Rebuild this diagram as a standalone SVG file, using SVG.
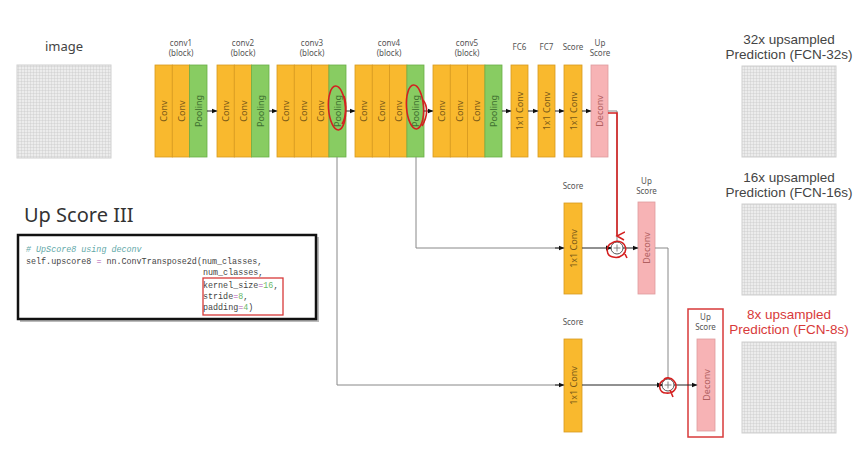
<svg xmlns="http://www.w3.org/2000/svg" width="864" height="460" viewBox="0 0 864 460">
<defs>
<pattern id="grid" width="3" height="3" patternUnits="userSpaceOnUse">
<rect width="3" height="3" fill="#ececec"/>
<path d="M0 0H3M0 0V3" stroke="#c8c8c8" stroke-width="0.8" fill="none"/>
</pattern>
<marker id="ah" markerWidth="6" markerHeight="6" refX="5" refY="3" orient="auto" markerUnits="userSpaceOnUse">
<path d="M0 0.5L6 3L0 5.5Z" fill="#111"/>
</marker>
<marker id="rah" markerWidth="10" markerHeight="10" refX="5" refY="8" orient="auto" markerUnits="userSpaceOnUse">
<path d="M1 0L5 8L9 1" fill="none" stroke="#d42020" stroke-width="1.5"/>
</marker>
</defs>
<style>
text{font-family:"Noto Sans","Noto Sans CJK KR","DejaVu Sans",sans-serif}
.lbl{font-size:8px;fill:#555;text-anchor:middle}
.big{font-size:13px;fill:#444;text-anchor:middle}
.pred{font-family:"Liberation Sans",Arial,sans-serif;font-size:13.5px;fill:#444;text-anchor:middle}
.cv{fill:#F9B92E;stroke:#D89A1E;stroke-width:0.8}
.pl{fill:#88CC62;stroke:#6AAE48;stroke-width:0.8}
.dc{fill:#F7B3B5;stroke:#DF9C9E;stroke-width:0.8}
.tc{font-size:9px;fill:#7A5A18;text-anchor:middle;dominant-baseline:central}
.tp{font-size:9px;fill:#3E7030;text-anchor:middle;dominant-baseline:central}
.td{font-size:9px;fill:#B06060;text-anchor:middle;dominant-baseline:central}
.ln{stroke:#888;stroke-width:1;fill:none}
.ar{stroke:#222;stroke-width:1;fill:none;marker-end:url(#ah)}
.red{stroke:#D42020;stroke-width:1.6;fill:none}
.code{font-family:"Liberation Mono","DejaVu Sans Mono",monospace;font-size:8.4px;fill:#444}
.grid{fill:url(#grid);stroke:#d0d0d0;stroke-width:1}
</style>

<g id="image">
<text x="64" y="51" class="big">image</text>
<rect x="17" y="65" width="94" height="93" class="grid"/>
</g>

<g id="conv1">
<text x="181" y="46" class="lbl">conv1</text><text x="181" y="56" class="lbl">(block)</text>
<rect x="155" y="65" width="17.3" height="92" class="cv"/><rect x="172.3" y="65" width="17.3" height="92" class="cv"/><rect x="189.6" y="65" width="17.4" height="92" class="pl"/>
<text class="tc" transform="translate(163.7,111) rotate(-90)">Conv</text>
<text class="tc" transform="translate(181,111) rotate(-90)">Conv</text>
<text class="tp" transform="translate(198.3,111) rotate(-90)">Pooling</text>
</g>

<g id="conv2">
<text x="243" y="46" class="lbl">conv2</text><text x="243" y="56" class="lbl">(block)</text>
<rect x="217" y="65" width="17.3" height="92" class="cv"/><rect x="234.3" y="65" width="17.3" height="92" class="cv"/><rect x="251.6" y="65" width="17.4" height="92" class="pl"/>
<text class="tc" transform="translate(225.7,111) rotate(-90)">Conv</text>
<text class="tc" transform="translate(243,111) rotate(-90)">Conv</text>
<text class="tp" transform="translate(260.3,111) rotate(-90)">Pooling</text>
</g>

<g id="conv3">
<text x="312" y="46" class="lbl">conv3</text><text x="312" y="56" class="lbl">(block)</text>
<rect x="277" y="65" width="17.3" height="92" class="cv"/><rect x="294.3" y="65" width="17.3" height="92" class="cv"/><rect x="311.6" y="65" width="17.3" height="92" class="cv"/><rect x="328.9" y="65" width="17.1" height="92" class="pl"/>
<text class="tc" transform="translate(285.7,111) rotate(-90)">Conv</text>
<text class="tc" transform="translate(303,111) rotate(-90)">Conv</text>
<text class="tc" transform="translate(320.3,111) rotate(-90)">Conv</text>
<text class="tp" transform="translate(337.5,111) rotate(-90)">Pooling</text>
</g>

<g id="conv4">
<text x="389" y="46" class="lbl">conv4</text><text x="389" y="56" class="lbl">(block)</text>
<rect x="355" y="65" width="17.3" height="92" class="cv"/><rect x="372.3" y="65" width="17.3" height="92" class="cv"/><rect x="389.6" y="65" width="17.3" height="92" class="cv"/><rect x="406.9" y="65" width="17.1" height="92" class="pl"/>
<text class="tc" transform="translate(363.7,111) rotate(-90)">Conv</text>
<text class="tc" transform="translate(381,111) rotate(-90)">Conv</text>
<text class="tc" transform="translate(398.3,111) rotate(-90)">Conv</text>
<text class="tp" transform="translate(415.5,111) rotate(-90)">Pooling</text>
</g>

<g id="conv5">
<text x="467" y="46" class="lbl">conv5</text><text x="467" y="56" class="lbl">(block)</text>
<rect x="433" y="65" width="17.3" height="92" class="cv"/><rect x="450.3" y="65" width="17.3" height="92" class="cv"/><rect x="467.6" y="65" width="17.3" height="92" class="cv"/><rect x="484.9" y="65" width="17.1" height="92" class="pl"/>
<text class="tc" transform="translate(441.7,111) rotate(-90)">Conv</text>
<text class="tc" transform="translate(459,111) rotate(-90)">Conv</text>
<text class="tc" transform="translate(476.3,111) rotate(-90)">Conv</text>
<text class="tp" transform="translate(493.5,111) rotate(-90)">Pooling</text>
</g>

<g id="fc6">
<text x="519.5" y="50" class="lbl">FC6</text>
<rect x="511" y="65" width="17" height="92" class="cv"/>
<text class="tc" transform="translate(519.5,111) rotate(-90)">1x1 Conv</text>
</g>
<g id="fc7">
<text x="546.5" y="50" class="lbl">FC7</text>
<rect x="538" y="65" width="17" height="92" class="cv"/>
<text class="tc" transform="translate(546.5,111) rotate(-90)">1x1 Conv</text>
</g>
<g id="score32">
<text x="573" y="50" class="lbl">Score</text>
<rect x="564" y="65" width="18" height="92" class="cv"/>
<text class="tc" transform="translate(573,111) rotate(-90)">1x1 Conv</text>
</g>
<g id="upscore32">
<text x="600" y="46" class="lbl">Up</text><text x="600" y="56" class="lbl">Score</text>
<rect x="591" y="65" width="17" height="92" class="dc"/>
<text class="td" transform="translate(599.5,111) rotate(-90)">Deconv</text>
</g>

<g id="score16">
<text x="573" y="189" class="lbl">Score</text>
<rect x="564" y="203" width="18" height="91" class="cv"/>
<text class="tc" transform="translate(573,248.5) rotate(-90)">1x1 Conv</text>
</g>
<g id="upscore16">
<text x="646.5" y="184" class="lbl">Up</text><text x="646.5" y="194" class="lbl">Score</text>
<rect x="638" y="202" width="17" height="92" class="dc"/>
<text class="td" transform="translate(646.5,248) rotate(-90)">Deconv</text>
</g>

<g id="score8">
<text x="573" y="325" class="lbl">Score</text>
<rect x="564" y="339" width="18" height="93" class="cv"/>
<text class="tc" transform="translate(573,385.5) rotate(-90)">1x1 Conv</text>
</g>
<g id="upscore8">
<rect x="688" y="309" width="35" height="128" fill="none" stroke="#D83A3A" stroke-width="1.5"/>
<text x="705.5" y="320" class="lbl">Up</text><text x="705.5" y="330" class="lbl">Score</text>
<rect x="697" y="339" width="18" height="92" class="dc"/>
<text class="td" transform="translate(706,385) rotate(-90)">Deconv</text>
</g>

<g id="sum16">
<circle cx="617" cy="248" r="6" fill="#fff" stroke="#555" stroke-width="1"/>
<path d="M613.5 248H620.5M617 244.5V251.5" stroke="#777" stroke-width="0.9"/>
</g>
<g id="sum8">
<circle cx="668" cy="385" r="6" fill="#fff" stroke="#555" stroke-width="1"/>
<path d="M664.5 385H671.5M668 381.5V388.5" stroke="#777" stroke-width="0.9"/>
</g>

<g id="pred32">
<text x="789" y="44" class="pred">32x upsampled</text>
<text x="789" y="59" class="pred">Prediction (FCN-32s)</text>
<rect x="742" y="66" width="94" height="91" class="grid"/>
</g>
<g id="pred16">
<text x="789" y="182" class="pred">16x upsampled</text>
<text x="789" y="197" class="pred">Prediction (FCN-16s)</text>
<rect x="742" y="204" width="94" height="91" class="grid"/>
</g>
<g id="pred8">
<text x="789" y="319" class="pred" style="fill:#D83A3A">8x upsampled</text>
<text x="789" y="334" class="pred" style="fill:#D83A3A">Prediction (FCN-8s)</text>
<rect x="742" y="342" width="94" height="91" class="grid"/>
</g>

<g id="title">
<text x="24" y="222" font-size="20" fill="#333">Up Score III</text>
</g>

<g id="code">
<rect x="20" y="237" width="299" height="85" fill="#bbb"/>
<rect x="18" y="235" width="298" height="84" fill="#fff" stroke="#111" stroke-width="2.5"/>
<text x="26" y="252" class="code" style="fill:#5FA8A8;font-style:italic"># UpScore8 using deconv</text>
<text x="26" y="263.5" class="code">self.upscore8 <tspan fill="#B050B0">=</tspan> nn.ConvTranspose2d(num_classes,</text>
<text x="203" y="275" class="code">num_classes,</text>
<text x="203" y="288" class="code">kernel_size<tspan fill="#B050B0">=</tspan><tspan fill="#6AB86A">16</tspan>,</text>
<text x="203" y="299" class="code">stride<tspan fill="#B050B0">=</tspan><tspan fill="#6AB86A">8</tspan>,</text>
<text x="203" y="310" class="code">padding<tspan fill="#B050B0">=</tspan><tspan fill="#6AB86A">4</tspan>)</text>
<rect x="203" y="278" width="80" height="37" fill="none" stroke="#D83A3A" stroke-width="1.3"/>
</g>

<g id="connectors">
<path class="ar" d="M207 111H216.5"/>
<path class="ar" d="M269 111H276.5"/>
<path class="ar" d="M346 111H354.5"/>
<path class="ar" d="M424 111H432.5"/>
<path class="ar" d="M502 111H510.5"/>
<path class="ar" d="M528 111H537.5"/>
<path class="ar" d="M555 111H563.5"/>
<path class="ar" d="M582 111H590.5"/>
<path class="ln" d="M608 111H617V242"/>
<path class="ln" d="M416 157V248H560"/>
<path class="ar" d="M555 248H563.5"/>
<path class="ar" d="M582 248H611"/>
<path class="ar" d="M623 248H637.5"/>
<path class="ln" d="M655 248H668V379"/>
<path class="ln" d="M337 157V385H560"/>
<path class="ar" d="M555 385H563.5"/>
<path class="ar" d="M582 385H662"/>
<path class="ar" d="M674 385H696.5"/>
</g>

<g id="annotations">
<ellipse cx="337" cy="108" rx="8.5" ry="22" class="red" transform="rotate(-4 337 108)"/>
<path class="red" d="M344 96C347 104 346 118 342 124"/>
<ellipse cx="415" cy="107" rx="8.5" ry="22" class="red" transform="rotate(-4 415 107)"/>
<path class="red" d="M423 100C428 106 428 116 422 126"/>
<path class="red" d="M608 113H617V236" marker-end="url(#rah)" stroke-width="2"/>
<path class="red" d="M612 243C605 246 606 256 613 257C620 259 628 253 625 246C623 241 616 240 612 243M624 252L627 258"/>
<path class="red" d="M664 380C657 383 659 393 666 393C674 394 679 387 674 381C671 377 665 377 664 380M670 390L673 397"/>
</g>
</svg>
